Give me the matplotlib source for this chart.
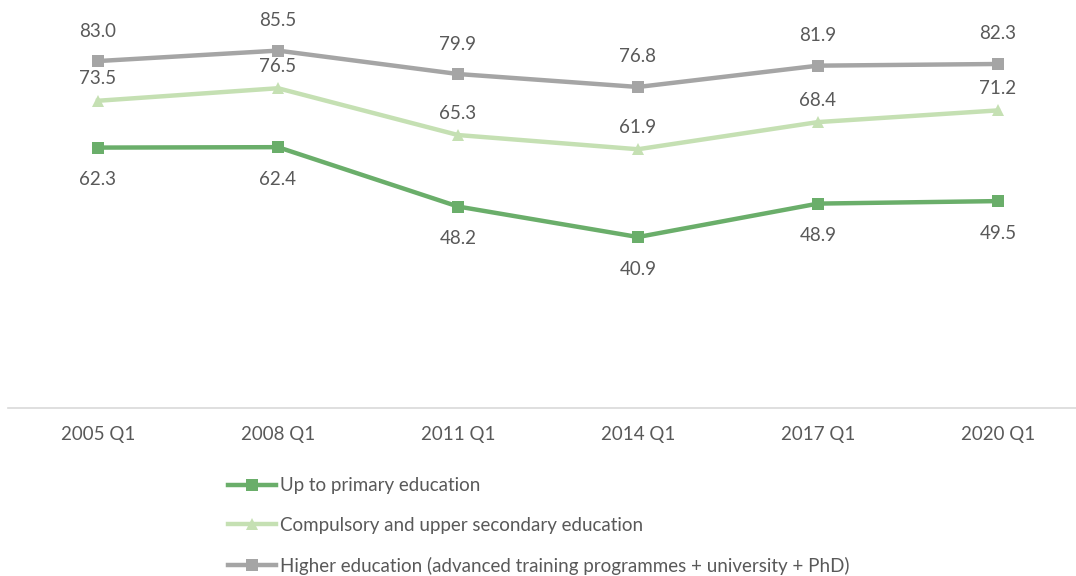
import matplotlib
matplotlib.use("Agg")
import matplotlib.pyplot as plt
from matplotlib.lines import Line2D

periods = ["2005 Q1", "2008 Q1", "2011 Q1", "2014 Q1", "2017 Q1", "2020 Q1"]
primary = [62.3, 62.4, 48.2, 40.9, 48.9, 49.5]
secondary = [73.5, 76.5, 65.3, 61.9, 68.4, 71.2]
higher = [83.0, 85.5, 79.9, 76.8, 81.9, 82.3]

series_names = [
    "Up to primary education",
    "Compulsory and upper secondary education",
    "Higher education (advanced training programmes + university + PhD)",
]

plt.rcParams["font.family"] = ["Lato", "DejaVu Sans"]
TEXT = "#595959"
FS = 13.5

W, H = 1076, 576
fig = plt.figure(figsize=(W / 100, H / 100), dpi=100)
# plot area: x from 8px to 1088px, y=0 at 408px, y=100 at -10px
ax = fig.add_axes([8 / W, 168 / H, 1080 / W, 418 / H])
ax.set_xlim(-0.5, 5.5)
ax.set_ylim(0, 100)

x = list(range(len(periods)))
styles = [
    (primary, "#6aae6a", "s", -32, series_names[0]),
    (secondary, "#c5e0b3", "^", 22, series_names[1]),
    (higher, "#a5a5a5", "s", 30, series_names[2]),
]
handles = []
for vals, col, mk, off, name in styles:
    ax.plot(x, vals, color=col, lw=3.2, marker=mk, markersize=9,
            markeredgewidth=0, zorder=3)
    for xi, v in zip(x, vals):
        ax.annotate(f"{v:.1f}", (xi, v), xytext=(0, off), textcoords="offset pixels",
                    ha="center", va="center", fontsize=FS, color=TEXT)
    handles.append(Line2D([], [], color=col, lw=3.2, marker=mk, markersize=9,
                          markeredgewidth=0))

for s in ["top", "right", "left"]:
    ax.spines[s].set_visible(False)
ax.spines["bottom"].set_color("#d9d9d9")
ax.spines["bottom"].set_linewidth(1.2)
ax.set_yticks([])
ax.set_xticks(x)
ax.set_xticklabels(periods, fontsize=FS, color=TEXT)
ax.tick_params(axis="x", length=0, pad=13)

fig.legend(handles, series_names, loc="upper left",
           bbox_to_anchor=(220 / W, 1 - 470 / H), frameon=False,
           fontsize=FS, labelcolor=TEXT, handlelength=2.6, handletextpad=0.2,
           labelspacing=1.2, borderaxespad=0)

fig.savefig("out.png", dpi=100)
